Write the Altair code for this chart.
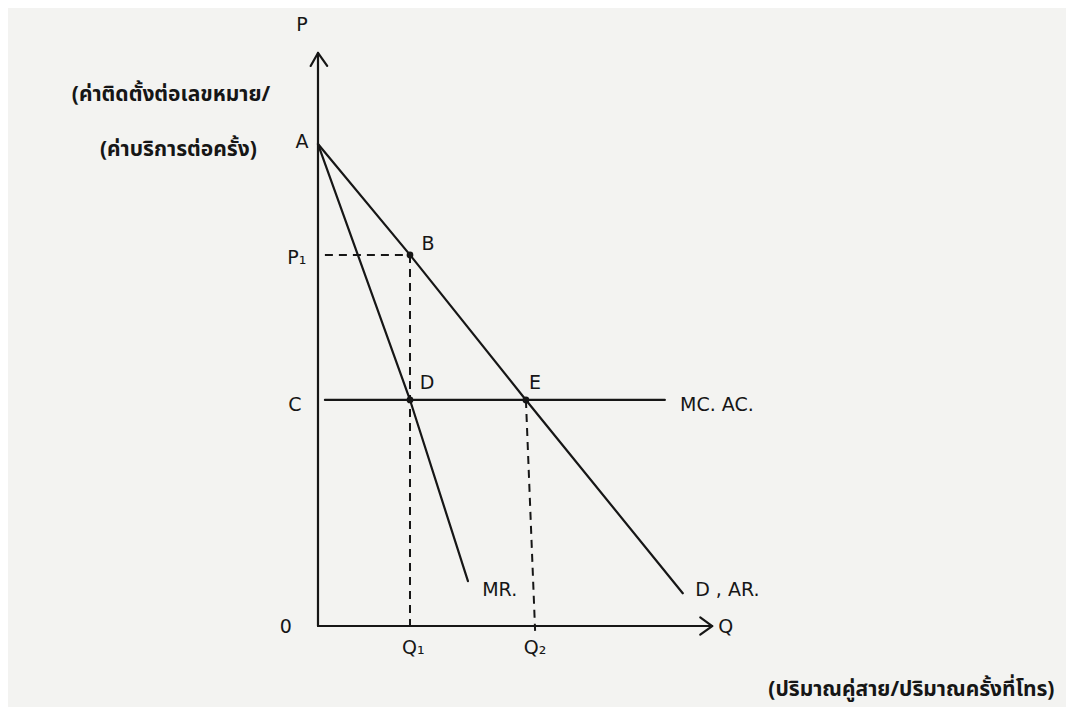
import altair as alt
import pandas as pd

# ---- values (Q on x, P on y) ----
demand_q = [0.0, 2.0, 4.52, 7.93]
demand_p = [10.0, 7.7, 4.69, 0.68]
mr_q = [0.0, 2.0, 3.26]
mr_p = [10.0, 4.69, 0.93]
mc_q = [0.15, 7.54]
mc_p = [4.69, 4.69]

yaxis_q = [0.0, 0.0]
yaxis_p = [0.0, 11.89]
xaxis_q = [0.0, 8.57]
xaxis_p = [0.0, 0.0]
yarrow_q = [-0.16, 0.0, 0.2]
yarrow_p = [11.62, 11.89, 11.62]
xarrow_q = [8.31, 8.57, 8.31]
xarrow_p = [0.18, 0.0, -0.18]

p1_guide_q = [0.15, 2.0]
p1_guide_p = [7.7, 7.7]
q1_guide_q = [2.0, 2.0]
q1_guide_p = [7.7, 0.0]
q2_guide_q = [4.52, 4.72]
q2_guide_p = [4.69, -0.1]

point_q = [2.0, 2.0, 4.52]
point_p = [7.7, 4.69, 4.69]

center_labels = ["P", "A", "P₁", "B", "C", "D", "E", "0", "Q₁", "Q₂"]
center_label_q = [-0.35, -0.35, -0.46, 2.39, -0.5, 2.37, 4.72, -0.7, 2.07, 4.72]
center_label_p = [12.47, 10.04, 7.63, 7.93, 4.59, 5.04, 5.04, -0.02, -0.46, -0.46]

left_labels = ["MC.  AC.", "MR.", "D , AR.", "Q"]
left_label_q = [7.87, 3.57, 8.2, 8.7]
left_label_p = [4.59, 0.75, 0.75, -0.02]

thai_right_labels = ["(ค่าติดตั้งต่อเลขหมาย/", "(ค่าบริการต่อครั้ง)"]
thai_right_q = [-1.04, -1.33]
thai_right_p = [11.02, 9.88]

thai_center_labels = ["(ปริมาณคู่สาย/ปริมาณครั้งที่โทร)"]
thai_center_q = [12.9]
thai_center_p = [-1.33]


def segs(named):
    rows = []
    for name, (qs, ps) in named.items():
        for i, (q, p) in enumerate(zip(qs, ps)):
            rows.append({"seg": name, "ord": i, "Q": q, "P": p})
    return pd.DataFrame(rows)


solid = segs({
    "demand": (demand_q, demand_p),
    "mr": (mr_q, mr_p),
    "mc": (mc_q, mc_p),
    "yaxis": (yaxis_q, yaxis_p),
    "xaxis": (xaxis_q, xaxis_p),
    "yarrow": (yarrow_q, yarrow_p),
    "xarrow": (xarrow_q, xarrow_p),
})
dashed = segs({
    "p1": (p1_guide_q, p1_guide_p),
    "q1": (q1_guide_q, q1_guide_p),
    "q2": (q2_guide_q, q2_guide_p),
})
points = pd.DataFrame({"Q": point_q, "P": point_p})
lab_c = pd.DataFrame({"Q": center_label_q, "P": center_label_p, "t": center_labels})
lab_l = pd.DataFrame({"Q": left_label_q, "P": left_label_p, "t": left_labels})
thai_r = pd.DataFrame({"Q": thai_right_q, "P": thai_right_p, "t": thai_right_labels})
thai_c = pd.DataFrame({"Q": thai_center_q, "P": thai_center_p, "t": thai_center_labels})

W, H = 1058, 699
xs = alt.Scale(domain=[-6.739, -6.739 + W / 46.0], nice=False, zero=False)
ys = alt.Scale(domain=[-1.680, -1.680 + H / 48.2], nice=False, zero=False)
X = lambda: alt.X("Q:Q", scale=xs, axis=None)
Y = lambda: alt.Y("P:Q", scale=ys, axis=None)

ink = "#161616"
latin = "DejaVu Sans"
thai = "Noto Sans Thai, Noto Sans Thai UI, Loma, Garuda, Noto Sans, DejaVu Sans"

solid_layer = alt.Chart(solid).mark_line(color=ink, strokeWidth=2.2, strokeCap="round", strokeJoin="round").encode(
    x=X(), y=Y(), detail="seg:N", order="ord:Q")
dashed_layer = alt.Chart(dashed).mark_line(color=ink, strokeWidth=2, strokeDash=[8, 6]).encode(
    x=X(), y=Y(), detail="seg:N", order="ord:Q")
pt_layer = alt.Chart(points).mark_circle(color=ink, size=45, opacity=1).encode(x=X(), y=Y())
c_layer = alt.Chart(lab_c).mark_text(font=latin, fontSize=19, color=ink, align="center", baseline="middle").encode(
    x=X(), y=Y(), text="t:N")
l_layer = alt.Chart(lab_l).mark_text(font=latin, fontSize=19, color=ink, align="left", baseline="middle").encode(
    x=X(), y=Y(), text="t:N")
tr_layer = alt.Chart(thai_r).mark_text(font=thai, fontSize=21, fontWeight="bold", color=ink, align="right", baseline="middle").encode(
    x=X(), y=Y(), text="t:N")
tc_layer = alt.Chart(thai_c).mark_text(font=thai, fontSize=21, fontWeight="bold", color=ink, align="center", baseline="middle").encode(
    x=X(), y=Y(), text="t:N")

chart = alt.layer(solid_layer, dashed_layer, pt_layer, c_layer, l_layer, tr_layer, tc_layer).properties(
    width=W, height=H, padding=0, background="#f3f3f1"
).configure_view(strokeWidth=0)

chart.save("out.html", embed_options={"renderer": "svg", "actions": False})
